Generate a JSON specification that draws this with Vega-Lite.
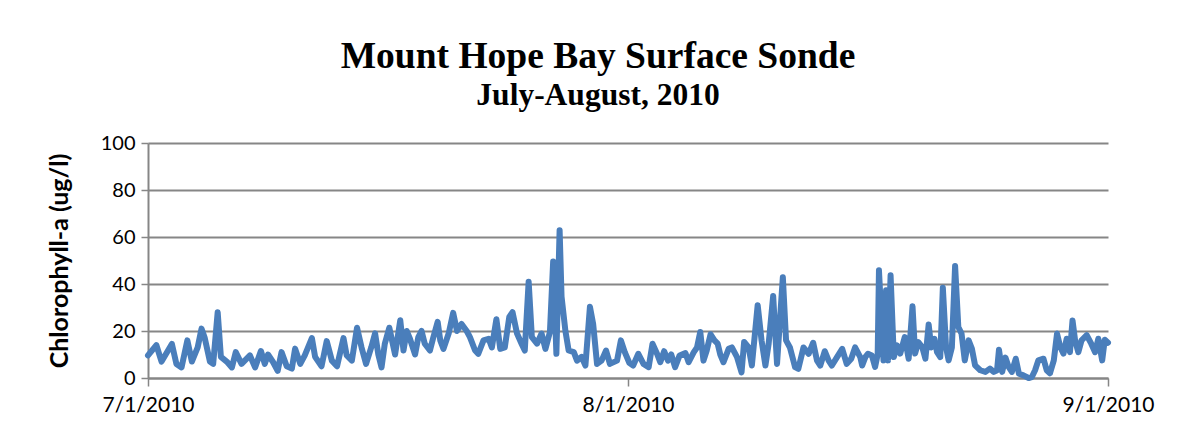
{
  "$schema": "https://vega.github.io/schema/vega-lite/v6.json",
  "width": 960,
  "height": 235,
  "autosize": {"type": "none"},
  "padding": {"left": 148, "top": 143, "right": 69, "bottom": 61},
  "background": "white",
  "title": {
    "text": "Mount Hope Bay Surface Sonde",
    "subtitle": "July-August, 2010",
    "anchor": "middle",
    "frame": "group",
    "dx": -30,
    "offset": 22,
    "font": "Liberation Serif",
    "fontSize": 37.5,
    "fontWeight": "bold",
    "color": "black",
    "subtitleFont": "Liberation Serif",
    "subtitleFontSize": 31.5,
    "subtitleFontWeight": "bold",
    "subtitleColor": "black",
    "subtitlePadding": 4
  },
  "config": {
    "view": {"stroke": null},
    "axis": {
      "labelFont": "Lato",
      "titleFont": "Lato",
      "labelColor": "black",
      "titleColor": "black",
      "domainColor": "#868686",
      "tickColor": "#868686",
      "gridColor": "#868686"
    }
  },
  "data": {
    "values": [
      {"t": "2010-07-01T00:00Z", "v": 9.6},
      {"t": "2010-07-01T13:00Z", "v": 14},
      {"t": "2010-07-01T21:00Z", "v": 7},
      {"t": "2010-07-02T13:00Z", "v": 14.5},
      {"t": "2010-07-02T20:00Z", "v": 6},
      {"t": "2010-07-03T04:00Z", "v": 4.5},
      {"t": "2010-07-03T13:00Z", "v": 16},
      {"t": "2010-07-03T20:00Z", "v": 7},
      {"t": "2010-07-04T05:00Z", "v": 13},
      {"t": "2010-07-04T11:00Z", "v": 21},
      {"t": "2010-07-04T16:00Z", "v": 17},
      {"t": "2010-07-05T00:00Z", "v": 7},
      {"t": "2010-07-05T05:00Z", "v": 6},
      {"t": "2010-07-05T12:00Z", "v": 28},
      {"t": "2010-07-05T17:00Z", "v": 9},
      {"t": "2010-07-06T02:00Z", "v": 7},
      {"t": "2010-07-06T10:00Z", "v": 4.5},
      {"t": "2010-07-06T16:00Z", "v": 11},
      {"t": "2010-07-07T01:00Z", "v": 6},
      {"t": "2010-07-07T14:00Z", "v": 9.6},
      {"t": "2010-07-07T22:00Z", "v": 4.5},
      {"t": "2010-07-08T07:00Z", "v": 11.5},
      {"t": "2010-07-08T13:00Z", "v": 6},
      {"t": "2010-07-08T18:00Z", "v": 10},
      {"t": "2010-07-09T02:00Z", "v": 6.7},
      {"t": "2010-07-09T09:00Z", "v": 3},
      {"t": "2010-07-09T15:00Z", "v": 11},
      {"t": "2010-07-09T23:00Z", "v": 5},
      {"t": "2010-07-10T07:00Z", "v": 4},
      {"t": "2010-07-10T12:00Z", "v": 12.5},
      {"t": "2010-07-10T20:00Z", "v": 6},
      {"t": "2010-07-11T03:00Z", "v": 9.6},
      {"t": "2010-07-11T14:00Z", "v": 17},
      {"t": "2010-07-11T19:00Z", "v": 9},
      {"t": "2010-07-12T05:00Z", "v": 5},
      {"t": "2010-07-12T13:00Z", "v": 15.7},
      {"t": "2010-07-12T21:00Z", "v": 7.4},
      {"t": "2010-07-13T05:00Z", "v": 5},
      {"t": "2010-07-13T15:00Z", "v": 17},
      {"t": "2010-07-13T20:00Z", "v": 9.6},
      {"t": "2010-07-14T04:00Z", "v": 7.4},
      {"t": "2010-07-14T12:00Z", "v": 21.4},
      {"t": "2010-07-14T19:00Z", "v": 13},
      {"t": "2010-07-15T02:00Z", "v": 6},
      {"t": "2010-07-15T10:00Z", "v": 13},
      {"t": "2010-07-15T16:00Z", "v": 19},
      {"t": "2010-07-15T21:00Z", "v": 10},
      {"t": "2010-07-16T02:00Z", "v": 4.5},
      {"t": "2010-07-16T07:00Z", "v": 14.5},
      {"t": "2010-07-16T14:00Z", "v": 21.4},
      {"t": "2010-07-16T23:00Z", "v": 10},
      {"t": "2010-07-17T07:00Z", "v": 24.6},
      {"t": "2010-07-17T12:00Z", "v": 11.7},
      {"t": "2010-07-17T17:00Z", "v": 20},
      {"t": "2010-07-17T22:00Z", "v": 16.7},
      {"t": "2010-07-18T06:00Z", "v": 10},
      {"t": "2010-07-18T11:00Z", "v": 17.4},
      {"t": "2010-07-18T16:00Z", "v": 20},
      {"t": "2010-07-18T21:00Z", "v": 14.6},
      {"t": "2010-07-19T05:00Z", "v": 11.7},
      {"t": "2010-07-19T10:00Z", "v": 17},
      {"t": "2010-07-19T17:00Z", "v": 23.9},
      {"t": "2010-07-19T21:00Z", "v": 16},
      {"t": "2010-07-20T02:00Z", "v": 12.4},
      {"t": "2010-07-20T10:00Z", "v": 18.9},
      {"t": "2010-07-20T17:00Z", "v": 27.7},
      {"t": "2010-07-20T23:00Z", "v": 20},
      {"t": "2010-07-21T06:00Z", "v": 23},
      {"t": "2010-07-21T14:00Z", "v": 20},
      {"t": "2010-07-21T19:00Z", "v": 17.4},
      {"t": "2010-07-22T03:00Z", "v": 11.7},
      {"t": "2010-07-22T08:00Z", "v": 10.3},
      {"t": "2010-07-22T16:00Z", "v": 16},
      {"t": "2010-07-23T00:00Z", "v": 16.7},
      {"t": "2010-07-23T05:00Z", "v": 13},
      {"t": "2010-07-23T12:00Z", "v": 25},
      {"t": "2010-07-23T18:00Z", "v": 12.4},
      {"t": "2010-07-24T01:00Z", "v": 13},
      {"t": "2010-07-24T08:00Z", "v": 26},
      {"t": "2010-07-24T13:00Z", "v": 28},
      {"t": "2010-07-24T20:00Z", "v": 18.9},
      {"t": "2010-07-25T03:00Z", "v": 14.6},
      {"t": "2010-07-25T08:00Z", "v": 11.7},
      {"t": "2010-07-25T14:00Z", "v": 41},
      {"t": "2010-07-25T19:00Z", "v": 17.4},
      {"t": "2010-07-26T03:00Z", "v": 14.6},
      {"t": "2010-07-26T10:00Z", "v": 18.9},
      {"t": "2010-07-26T16:00Z", "v": 12.4},
      {"t": "2010-07-26T23:00Z", "v": 19.6},
      {"t": "2010-07-27T04:00Z", "v": 49.6},
      {"t": "2010-07-27T09:00Z", "v": 10.3},
      {"t": "2010-07-27T14:00Z", "v": 62.9},
      {"t": "2010-07-27T17:00Z", "v": 34.6},
      {"t": "2010-07-27T23:00Z", "v": 20},
      {"t": "2010-07-28T04:00Z", "v": 11.7},
      {"t": "2010-07-28T12:00Z", "v": 11},
      {"t": "2010-07-28T17:00Z", "v": 7.4},
      {"t": "2010-07-29T00:00Z", "v": 9},
      {"t": "2010-07-29T06:00Z", "v": 5.3},
      {"t": "2010-07-29T13:00Z", "v": 30.3},
      {"t": "2010-07-29T18:00Z", "v": 23},
      {"t": "2010-07-30T00:00Z", "v": 6},
      {"t": "2010-07-30T07:00Z", "v": 7.4},
      {"t": "2010-07-30T14:00Z", "v": 11.7},
      {"t": "2010-07-30T20:00Z", "v": 6},
      {"t": "2010-07-31T07:00Z", "v": 7.4},
      {"t": "2010-07-31T13:00Z", "v": 16},
      {"t": "2010-07-31T19:00Z", "v": 11},
      {"t": "2010-08-01T02:00Z", "v": 6.5},
      {"t": "2010-08-01T08:00Z", "v": 5.3},
      {"t": "2010-08-01T16:00Z", "v": 10.3},
      {"t": "2010-08-02T00:00Z", "v": 6},
      {"t": "2010-08-02T08:00Z", "v": 4.6},
      {"t": "2010-08-02T14:00Z", "v": 14.6},
      {"t": "2010-08-02T21:00Z", "v": 10.3},
      {"t": "2010-08-03T02:00Z", "v": 6.7},
      {"t": "2010-08-03T08:00Z", "v": 11.4},
      {"t": "2010-08-03T14:00Z", "v": 7.4},
      {"t": "2010-08-03T19:00Z", "v": 10},
      {"t": "2010-08-04T01:00Z", "v": 4.6},
      {"t": "2010-08-04T08:00Z", "v": 9.6},
      {"t": "2010-08-04T17:00Z", "v": 10.6},
      {"t": "2010-08-04T22:00Z", "v": 6.7},
      {"t": "2010-08-05T06:00Z", "v": 11},
      {"t": "2010-08-05T11:00Z", "v": 13},
      {"t": "2010-08-05T16:00Z", "v": 19.6},
      {"t": "2010-08-05T21:00Z", "v": 7.4},
      {"t": "2010-08-06T02:00Z", "v": 11.7},
      {"t": "2010-08-06T08:00Z", "v": 18.6},
      {"t": "2010-08-06T14:00Z", "v": 16},
      {"t": "2010-08-06T19:00Z", "v": 14.6},
      {"t": "2010-08-06T23:00Z", "v": 10},
      {"t": "2010-08-07T04:00Z", "v": 6.7},
      {"t": "2010-08-07T12:00Z", "v": 12.4},
      {"t": "2010-08-07T17:00Z", "v": 13},
      {"t": "2010-08-08T01:00Z", "v": 8.9},
      {"t": "2010-08-08T08:00Z", "v": 2.4},
      {"t": "2010-08-08T12:00Z", "v": 15.3},
      {"t": "2010-08-08T19:00Z", "v": 13},
      {"t": "2010-08-09T00:00Z", "v": 5.3},
      {"t": "2010-08-09T09:00Z", "v": 31},
      {"t": "2010-08-09T15:00Z", "v": 16},
      {"t": "2010-08-09T21:00Z", "v": 5.3},
      {"t": "2010-08-10T02:00Z", "v": 14.6},
      {"t": "2010-08-10T09:00Z", "v": 34.9},
      {"t": "2010-08-10T15:00Z", "v": 6},
      {"t": "2010-08-11T00:00Z", "v": 42.9},
      {"t": "2010-08-11T05:00Z", "v": 16},
      {"t": "2010-08-11T11:00Z", "v": 13},
      {"t": "2010-08-11T19:00Z", "v": 4.6},
      {"t": "2010-08-12T00:00Z", "v": 3.9},
      {"t": "2010-08-12T08:00Z", "v": 13},
      {"t": "2010-08-12T16:00Z", "v": 10.3},
      {"t": "2010-08-12T23:00Z", "v": 15},
      {"t": "2010-08-13T05:00Z", "v": 7.4},
      {"t": "2010-08-13T10:00Z", "v": 5.3},
      {"t": "2010-08-13T17:00Z", "v": 11.4},
      {"t": "2010-08-13T23:00Z", "v": 7.4},
      {"t": "2010-08-14T04:00Z", "v": 5.3},
      {"t": "2010-08-14T12:00Z", "v": 8.9},
      {"t": "2010-08-14T20:00Z", "v": 12.4},
      {"t": "2010-08-15T03:00Z", "v": 6},
      {"t": "2010-08-15T10:00Z", "v": 8.2},
      {"t": "2010-08-15T16:00Z", "v": 13},
      {"t": "2010-08-16T00:00Z", "v": 8.9},
      {"t": "2010-08-16T03:00Z", "v": 5.3},
      {"t": "2010-08-16T08:00Z", "v": 9},
      {"t": "2010-08-16T12:00Z", "v": 10.3},
      {"t": "2010-08-16T18:00Z", "v": 9.6},
      {"t": "2010-08-16T23:00Z", "v": 4.7},
      {"t": "2010-08-17T03:00Z", "v": 10},
      {"t": "2010-08-17T05:00Z", "v": 45.8},
      {"t": "2010-08-17T12:00Z", "v": 7.5},
      {"t": "2010-08-17T16:00Z", "v": 37.3},
      {"t": "2010-08-17T19:00Z", "v": 7.5},
      {"t": "2010-08-17T23:00Z", "v": 43.7},
      {"t": "2010-08-18T04:00Z", "v": 8.9},
      {"t": "2010-08-18T09:00Z", "v": 13.9},
      {"t": "2010-08-18T14:00Z", "v": 10.4},
      {"t": "2010-08-18T21:00Z", "v": 17.4},
      {"t": "2010-08-19T03:00Z", "v": 8.2},
      {"t": "2010-08-19T09:00Z", "v": 30.5},
      {"t": "2010-08-19T13:00Z", "v": 10.4},
      {"t": "2010-08-19T18:00Z", "v": 15.3},
      {"t": "2010-08-20T00:00Z", "v": 13.2},
      {"t": "2010-08-20T05:00Z", "v": 8.2},
      {"t": "2010-08-20T10:00Z", "v": 22.8},
      {"t": "2010-08-20T14:00Z", "v": 13},
      {"t": "2010-08-20T19:00Z", "v": 16.7},
      {"t": "2010-08-20T23:00Z", "v": 11},
      {"t": "2010-08-21T04:00Z", "v": 8.9},
      {"t": "2010-08-21T08:00Z", "v": 38.4},
      {"t": "2010-08-21T13:00Z", "v": 13},
      {"t": "2010-08-21T17:00Z", "v": 7.5},
      {"t": "2010-08-21T22:00Z", "v": 13},
      {"t": "2010-08-22T03:00Z", "v": 47.7},
      {"t": "2010-08-22T08:00Z", "v": 21.7},
      {"t": "2010-08-22T13:00Z", "v": 18.9},
      {"t": "2010-08-22T18:00Z", "v": 7.5},
      {"t": "2010-08-23T00:00Z", "v": 16},
      {"t": "2010-08-23T05:00Z", "v": 12.5},
      {"t": "2010-08-23T10:00Z", "v": 5.4},
      {"t": "2010-08-23T18:00Z", "v": 3.3},
      {"t": "2010-08-24T02:00Z", "v": 2.6},
      {"t": "2010-08-24T09:00Z", "v": 4},
      {"t": "2010-08-24T15:00Z", "v": 2.6},
      {"t": "2010-08-24T20:00Z", "v": 3.3},
      {"t": "2010-08-24T23:00Z", "v": 12},
      {"t": "2010-08-25T04:00Z", "v": 2.6},
      {"t": "2010-08-25T09:00Z", "v": 8.7},
      {"t": "2010-08-25T14:00Z", "v": 4.7},
      {"t": "2010-08-25T19:00Z", "v": 2.6},
      {"t": "2010-08-26T01:00Z", "v": 8.2},
      {"t": "2010-08-26T06:00Z", "v": 1.8},
      {"t": "2010-08-26T13:00Z", "v": 1.1},
      {"t": "2010-08-26T21:00Z", "v": 0},
      {"t": "2010-08-27T02:00Z", "v": 0.4},
      {"t": "2010-08-27T07:00Z", "v": 3.3},
      {"t": "2010-08-27T12:00Z", "v": 7.5},
      {"t": "2010-08-27T20:00Z", "v": 8.2},
      {"t": "2010-08-28T01:00Z", "v": 3.3},
      {"t": "2010-08-28T06:00Z", "v": 2},
      {"t": "2010-08-28T12:00Z", "v": 7.5},
      {"t": "2010-08-28T17:00Z", "v": 18.9},
      {"t": "2010-08-28T22:00Z", "v": 13.2},
      {"t": "2010-08-29T03:00Z", "v": 10.4},
      {"t": "2010-08-29T08:00Z", "v": 16.7},
      {"t": "2010-08-29T13:00Z", "v": 11},
      {"t": "2010-08-29T17:00Z", "v": 24.5},
      {"t": "2010-08-29T21:00Z", "v": 16},
      {"t": "2010-08-30T02:00Z", "v": 11},
      {"t": "2010-08-30T07:00Z", "v": 16},
      {"t": "2010-08-30T15:00Z", "v": 18.2},
      {"t": "2010-08-30T22:00Z", "v": 14.6},
      {"t": "2010-08-31T04:00Z", "v": 11},
      {"t": "2010-08-31T09:00Z", "v": 16.7},
      {"t": "2010-08-31T15:00Z", "v": 7.5},
      {"t": "2010-08-31T19:00Z", "v": 16.3},
      {"t": "2010-09-01T00:00Z", "v": 15}
    ]
  },
  "mark": {
    "type": "line",
    "color": "#4a7ebb",
    "strokeWidth": 6,
    "strokeJoin": "round",
    "strokeCap": "round",
    "clip": false
  },
  "encoding": {
    "x": {
      "field": "t",
      "type": "temporal",
      "scale": {
        "type": "utc",
        "domain": [
          {"year": 2010, "month": 7, "date": 1, "utc": true},
          {"year": 2010, "month": 9, "date": 1, "utc": true}
        ],
        "nice": false
      },
      "axis": {
        "title": null,
        "values": [
          {"year": 2010, "month": 7, "date": 1, "utc": true},
          {"year": 2010, "month": 8, "date": 1, "utc": true},
          {"year": 2010, "month": 9, "date": 1, "utc": true}
        ],
        "labelExpr": "utcFormat(datum.value, '%-m/%-d/%Y')",
        "grid": false,
        "domainWidth": 2,
        "tickWidth": 1.5,
        "tickSize": 8,
        "labelFontSize": 21,
        "labelPadding": 8,
        "labelFlush": false,
        "labelOverlap": false
      }
    },
    "y": {
      "field": "v",
      "type": "quantitative",
      "scale": {"domain": [0, 100], "nice": false},
      "axis": {
        "title": "Chlorophyll-a (ug/l)",
        "values": [0, 20, 40, 60, 80, 100],
        "grid": true,
        "gridWidth": 2,
        "domainWidth": 2,
        "tickWidth": 1.5,
        "tickSize": 7,
        "labelFontSize": 20,
        "labelPadding": 6,
        "titleFontSize": 25,
        "titleFontWeight": "bold",
        "titlePadding": 28
      }
    }
  }
}
